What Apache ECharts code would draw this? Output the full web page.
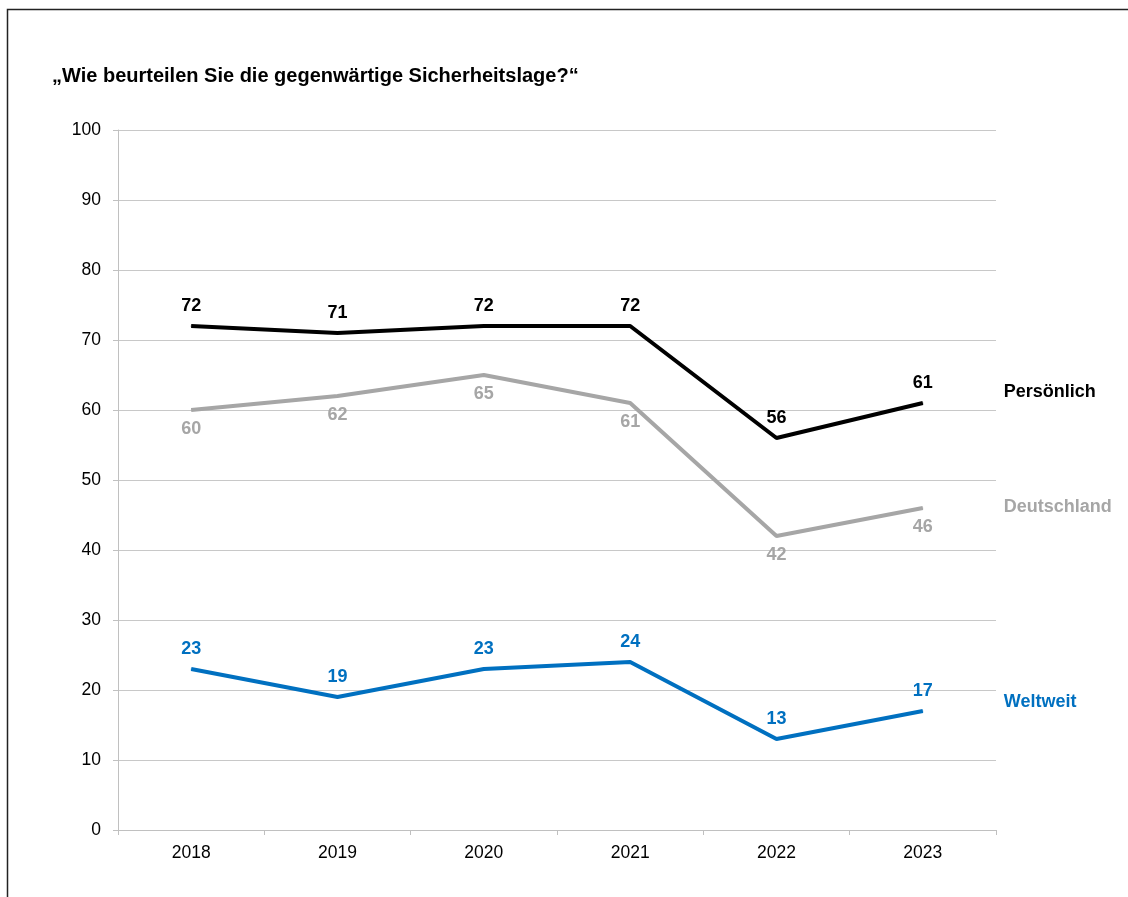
<!DOCTYPE html>
<html>
<head>
<meta charset="utf-8">
<script src="https://cdn.jsdelivr.net/npm/echarts@6/dist/echarts.min.js"></script>
<style>
  html, body { margin: 0; padding: 0; background: #fff; }
  #chart { width: 1128px; height: 897px; }
</style>
</head>
<body>
<div id="chart"></div>
<script>
  // Daten
  var years = ['2018', '2019', '2020', '2021', '2022', '2023'];
  var persoenlich = [72, 71, 72, 72, 56, 61];
  var deutschland = [60, 62, 65, 61, 42, 46];
  var weltweit = [23, 19, 23, 24, 13, 17];
  var yTicks = [0, 10, 20, 30, 40, 50, 60, 70, 80, 90, 100];

  var font = 'Liberation Sans, Arial, sans-serif';

  function line(name, data, color, labelPos, endOffsetY) {
    return {
      name: name,
      type: 'line',
      data: data,
      symbol: 'circle',
      symbolSize: 1,
      showSymbol: true,
      lineStyle: {color: color, width: 4},
      itemStyle: {color: color},
      label: {
        show: true,
        position: labelPos,
        distance: 10,
        color: color,
        fontFamily: font,
        fontWeight: 'bold',
        fontSize: 18
      },
      endLabel: {
        show: true,
        formatter: '{a}',
        color: color,
        fontFamily: font,
        fontWeight: 'bold',
        fontSize: 18,
        distance: 81,
        offset: [0, endOffsetY]
      },
      animation: false
    };
  }

  var chart = echarts.init(document.getElementById('chart'));
  chart.setOption({
    animation: false,
    graphic: [{
      type: 'rect',
      shape: {x: 7.5, y: 9.5, width: 1300, height: 1000},
      style: {fill: 'none', stroke: '#222', lineWidth: 1.5},
      silent: true
    }],
    title: {
      text: '\u201EWie beurteilen Sie die gegenw\u00E4rtige Sicherheitslage?\u201C',
      left: 47,
      top: 61,
      textStyle: {fontFamily: font, fontWeight: 'bold', fontSize: 20, color: '#000'}
    },
    grid: {left: 118, right: 132, top: 130, bottom: 67},
    xAxis: {
      type: 'category',
      data: years,
      boundaryGap: true,
      axisLine: {lineStyle: {color: '#c0c0c0', width: 1}},
      axisTick: {show: true, length: 5, lineStyle: {color: '#c0c0c0'}},
      axisLabel: {color: '#000', fontFamily: font, fontSize: 17.5, margin: 14}
    },
    yAxis: {
      type: 'value',
      min: yTicks[0],
      max: yTicks[yTicks.length - 1],
      interval: 10,
      axisLine: {show: true, lineStyle: {color: '#c0c0c0', width: 1}},
      axisTick: {show: true, length: 5, lineStyle: {color: '#c0c0c0'}},
      splitLine: {lineStyle: {color: '#c8c8c8', width: 1}},
      axisLabel: {color: '#000', fontFamily: font, fontSize: 17.5, margin: 17}
    },
    series: [
      line('Pers\u00F6nlich', persoenlich, '#000000', 'top', -11),
      line('Deutschland', deutschland, '#A6A6A6', 'bottom', -1),
      line('Weltweit', weltweit, '#0070C0', 'top', -9)
    ]
  });
</script>
</body>
</html>
